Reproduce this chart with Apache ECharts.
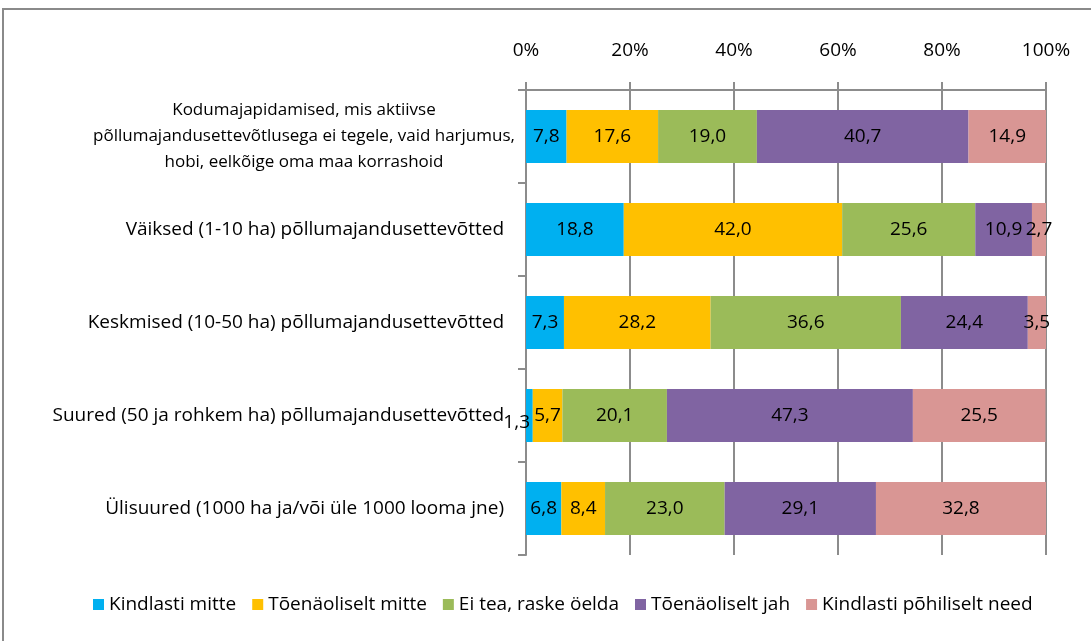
<!DOCTYPE html>
<html>
<head>
<meta charset="utf-8">
<script src="https://cdn.jsdelivr.net/npm/echarts@6/dist/echarts.min.js"></script>
<style>
html, body { margin: 0; padding: 0; background: #fff; }
#chartDiv { width: 1091px; height: 641px; }
</style>
</head>
<body>
<div id="chartDiv"></div>
<script>
// andmed
const categories = [
    'Kodumajapidamised, mis aktiivse\npõllumajandusettevõtlusega ei tegele, vaid harjumus,\nhobi, eelkõige oma maa korrashoid',
    'Väiksed (1-10 ha) põllumajandusettevõtted',
    'Keskmised (10-50 ha) põllumajandusettevõtted',
    'Suured (50 ja rohkem ha) põllumajandusettevõtted',
    'Ülisuured (1000 ha ja/või üle 1000 looma jne)'
];
const seriesNames = ['Kindlasti mitte', 'Tõenäoliselt mitte', 'Ei tea, raske öelda', 'Tõenäoliselt jah', 'Kindlasti põhiliselt need'];
const kindlastiMitte = [7.8, 18.8, 7.3, 1.3, 6.8];
const toenaoliseltMitte = [17.6, 42.0, 28.2, 5.7, 8.4];
const eiTea = [19.0, 25.6, 36.6, 20.1, 23.0];
const toenaoliseltJah = [40.7, 10.9, 24.4, 47.3, 29.1];
const kindlastiNeed = [14.9, 2.7, 3.5, 25.5, 32.8];
const colors = ['#00B0F0', '#FFC000', '#9BBB59', '#8064A2', '#D99694'];

let myChart = echarts.init(document.getElementById('chartDiv'));

const values = [kindlastiMitte, toenaoliseltMitte, eiTea, toenaoliseltJah, kindlastiNeed];
let series = [];
for (let i = 0; i < values.length; i++) {
    series.push({
        name: seriesNames[i],
        type: 'bar',
        stack: 'kokku',
        barWidth: '57%',
        // väga kitsa riba silt nihkub vasakule alla nagu Excelis
        data: values[i].map(v => v < 2 && i === 0
            ? { value: v, label: { position: 'left', distance: -4, offset: [0, 7] } }
            : v),
        itemStyle: { color: colors[i] },
        label: {
            show: true,
            position: 'inside',
            color: '#000',
            fontSize: 19,
            fontFamily: 'Open Sans',
            formatter: p => p.value.toFixed(1).replace('.', ',')
        }
    });
}

let option = {
    backgroundColor: '#fff',
    animation: false,
    textStyle: { fontFamily: 'Open Sans' },
    graphic: [{
        type: 'rect',
        shape: { x: 3, y: 9, width: 1100, height: 700 },
        style: { fill: 'none', stroke: '#8a8a8a', lineWidth: 2 },
        silent: true
    }],
    grid: { left: 526, right: 45, top: 90, bottom: 86 },
    xAxis: {
        type: 'value',
        position: 'top',
        min: 0,
        max: 100,
        interval: 20,
        axisLine: { show: true, lineStyle: { color: '#8c8c8c', width: 2 } },
        axisTick: { show: true, length: 8, lineStyle: { color: '#8c8c8c', width: 2 } },
        splitLine: { show: true, lineStyle: { color: '#8c8c8c', width: 2 } },
        axisLabel: {
            color: '#000',
            fontSize: 19,
            margin: 30,
            formatter: '{value}%'
        }
    },
    yAxis: {
        type: 'category',
        inverse: true,
        data: categories,
        axisLine: { show: true, lineStyle: { color: '#8c8c8c', width: 2 } },
        axisTick: { show: true, length: 8, lineStyle: { color: '#8c8c8c', width: 2 } },
        axisLabel: {
            margin: 22,
            color: '#000',
            fontSize: 19,
            formatter: v => v.indexOf('\n') >= 0 ? '{c|' + v + '}' : v,
            rich: {
                c: { width: 400, align: 'center', color: '#000', fontSize: 17, lineHeight: 26, fontFamily: 'Open Sans' }
            }
        }
    },
    legend: {
        bottom: 22,
        left: 88,
        itemWidth: 11,
        itemHeight: 11,
        itemGap: 16,
        icon: 'rect',
        textStyle: { color: '#000', fontSize: 19, fontFamily: 'Open Sans' },
        data: seriesNames
    },
    series: series
};
myChart.setOption(option);
</script>
</body>
</html>
